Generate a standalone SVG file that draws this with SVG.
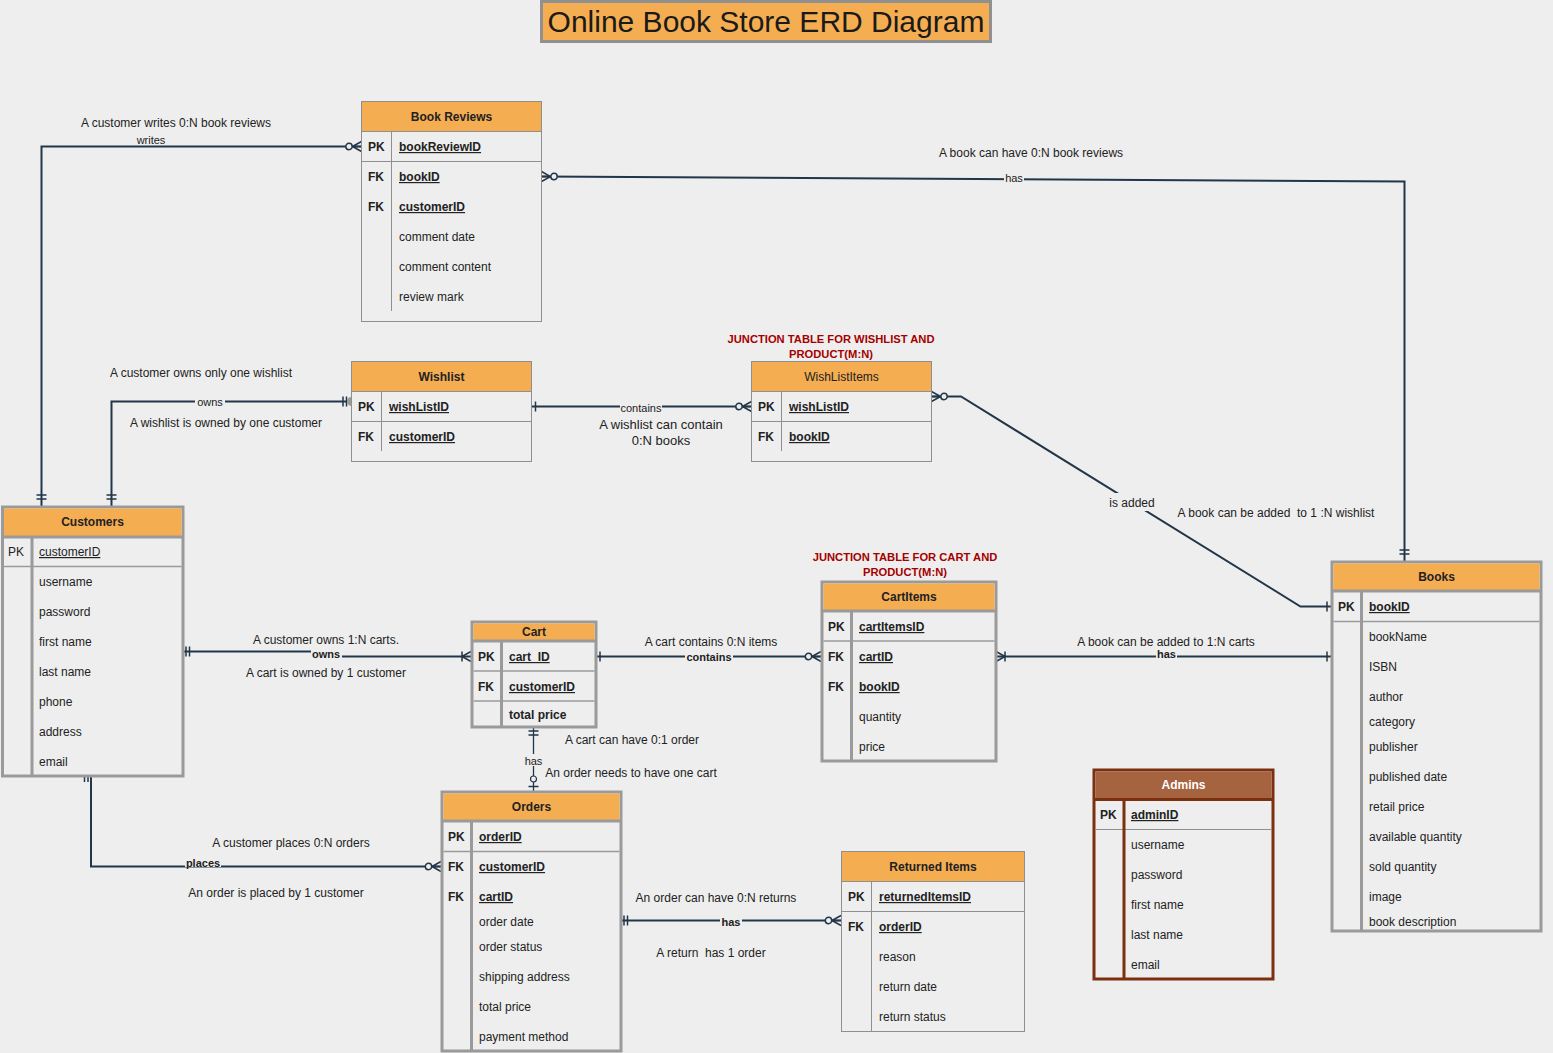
<svg xmlns="http://www.w3.org/2000/svg" width="1553" height="1053" viewBox="0 0 1553 1053">
<style>
text{font-family:"Liberation Sans",Arial,sans-serif;font-size:12px;fill:#222;}
.hd{font-weight:bold;text-anchor:middle;}
.hdn{text-anchor:middle;}
.k{font-weight:bold;}
.u{font-weight:bold;text-decoration:underline;}
.thin{fill:#eeeeee;stroke:#8f8f8f;stroke-width:1;}
.thick{fill:#eeeeee;stroke:#9a9a9a;stroke-width:3;}
.hfill{fill:#f5ad52;}
.sep{stroke:#9a9a9a;stroke-width:1.5;}
.sep1{stroke:#8f8f8f;stroke-width:1;}
.div3{stroke:#9a9a9a;stroke-width:3;}
.conn{fill:none;stroke:#22364a;stroke-width:2;}
.mk{fill:none;stroke:#22364a;stroke-width:1.5;}
.ann{text-anchor:middle;}
.lbl{text-anchor:middle;font-size:11px;}
.lblb{text-anchor:middle;font-size:11px;font-weight:bold;}
.bg{fill:#eeeeee;}
.red{fill:#a50000;font-weight:bold;text-anchor:middle;font-size:11.2px;}
</style>
<defs>
<marker id="zm" markerUnits="userSpaceOnUse" orient="auto-start-reverse" overflow="visible" markerWidth="1" markerHeight="1">
<path class="mk" d="M-9,0 L0,-5 M-9,0 L0,5 M-9,0 L0,0"/>
<circle cx="-12.5" cy="0" r="3.2" fill="#eeeeee" stroke="#22364a" stroke-width="1.5"/>
</marker>
<marker id="one" markerUnits="userSpaceOnUse" orient="auto-start-reverse" overflow="visible" markerWidth="1" markerHeight="1">
<path class="mk" d="M-4,-5 V5"/>
</marker>
<marker id="oo1" markerUnits="userSpaceOnUse" orient="auto-start-reverse" overflow="visible" markerWidth="1" markerHeight="1">
<path class="mk" d="M-3,-5 V5 M-6.5,-5 V5"/>
</marker>
<marker id="oo2" markerUnits="userSpaceOnUse" orient="auto-start-reverse" overflow="visible" markerWidth="1" markerHeight="1">
<path class="mk" d="M-4,-5 V5 M-8,-5 V5"/>
</marker>
<marker id="oo3" markerUnits="userSpaceOnUse" orient="auto-start-reverse" overflow="visible" markerWidth="1" markerHeight="1">
<path class="mk" d="M-7,-5 V5 M-11,-5 V5"/>
</marker>
<marker id="om" markerUnits="userSpaceOnUse" orient="auto-start-reverse" overflow="visible" markerWidth="1" markerHeight="1">
<path class="mk" d="M-9,0 L0,-5 M-9,0 L0,5 M-9,-5 V5"/>
</marker>
<marker id="zo" markerUnits="userSpaceOnUse" orient="auto-start-reverse" overflow="visible" markerWidth="1" markerHeight="1">
<path class="mk" d="M-4.5,-5 V5"/>
<circle cx="-12" cy="0" r="3" fill="#eeeeee" stroke="#22364a" stroke-width="1.2"/>
</marker>
<marker id="ood" markerUnits="userSpaceOnUse" orient="auto-start-reverse" overflow="visible" markerWidth="1" markerHeight="1">
<path class="mk" d="M-5,-5 V5 M-8.5,-5 V5"/>
<circle cx="0" cy="0" r="4.5" fill="#9a9a9a"/>
</marker>
</defs>
<rect width="1553" height="1053" fill="#eeeeee"/>

<g id="title">
<rect x="541.5" y="1.5" width="449" height="40" fill="#f5ad52" stroke="#909090" stroke-width="3"/>
<text x="766" y="32" text-anchor="middle" style="font-size:30px;fill:#1a1a1a">Online Book Store ERD Diagram</text>
</g>

<g id="connectors">
<path class="conn" d="M41.5,506 V146.5 H361.5" marker-start="url(#oo3)" marker-end="url(#zm)"/>
<path class="conn" d="M111.5,506 V401.5 H351.5" marker-start="url(#oo3)" marker-end="url(#ood)"/>
<path class="conn" d="M531.5,406.5 H751.5" marker-start="url(#one)" marker-end="url(#zm)"/>
<path class="conn" d="M931.5,396.5 H961 L1300.5,606.5 H1331" marker-start="url(#zm)" marker-end="url(#one)"/>
<path class="conn" d="M541.5,176.5 L1404.5,181.5 V561" marker-start="url(#zm)" marker-end="url(#oo3)"/>
<path class="conn" d="M183,651.5 H318 V656.5 H471" marker-start="url(#oo1)" marker-end="url(#om)"/>
<path class="conn" d="M596,656.5 H821" marker-start="url(#one)" marker-end="url(#zm)"/>
<path class="conn" d="M996,656.5 H1331" marker-start="url(#om)" marker-end="url(#one)"/>
<path class="conn" d="M533.5,727 V791" style="stroke-width:1.3" marker-start="url(#oo2)" marker-end="url(#zo)"/>
<path class="conn" d="M91,776 V866.5 H441" marker-end="url(#zm)"/>
<path class="mk" d="M84.5,772 V782 M88,772 V782"/>
<path class="conn" d="M621,920.5 H841" marker-start="url(#oo1)" marker-end="url(#zm)"/>

<text class="lbl" x="151" y="144">writes</text>
<rect class="bg" x="195" y="396" width="30" height="11"/>
<text class="lbl" x="210" y="406">owns</text>
<rect class="bg" x="620" y="401" width="42" height="12"/>
<text class="lbl" x="641" y="411.5">contains</text>
<rect class="bg" x="1004" y="172" width="20" height="11"/>
<text class="lbl" x="1014" y="181.5">has</text>
<rect class="bg" x="1105" y="493" width="54" height="18"/>
<text class="ann" x="1132" y="507">is added</text>
<rect class="bg" x="311" y="648" width="31" height="11"/>
<text class="lblb" x="326" y="658">owns</text>
<rect class="bg" x="685" y="651" width="48" height="11"/>
<text class="lblb" x="709" y="661">contains</text>
<rect class="bg" x="1156" y="649" width="21" height="9"/>
<text class="lblb" x="1166.5" y="657.5">has</text>
<rect class="bg" x="524" y="754" width="20" height="12"/>
<text class="lbl" x="533.5" y="764.5">has</text>
<rect class="bg" x="185" y="857" width="36" height="10"/>
<text class="lblb" x="203" y="866.5">places</text>
<rect class="bg" x="720" y="915" width="22" height="11"/>
<text class="lblb" x="731" y="925.5">has</text>

<text class="ann" x="176" y="127">A customer writes 0:N book reviews</text>
<text class="ann" x="201" y="377">A customer owns only one wishlist</text>
<text class="ann" x="226" y="427">A wishlist is owned by one customer</text>
<text class="ann" x="661" y="428.5" style="font-size:13px">A wishlist can contain</text>
<text class="ann" x="661" y="444.5" style="font-size:13px">0:N books</text>
<text class="ann" x="1031" y="157">A book can have 0:N book reviews</text>
<text class="ann" x="1276" y="517" xml:space="preserve">A book can be added  to 1 :N wishlist</text>
<text class="ann" x="326" y="644">A customer owns 1:N carts.</text>
<text class="ann" x="326" y="677">A cart is owned by 1 customer</text>
<text class="ann" x="711" y="646">A cart contains 0:N items</text>
<text class="ann" x="1166" y="645.5">A book can be added to 1:N carts</text>
<text class="ann" x="632" y="744">A cart can have 0:1 order</text>
<text class="ann" x="631" y="777">An order needs to have one cart</text>
<text class="ann" x="291" y="847">A customer places 0:N orders</text>
<text class="ann" x="276" y="897">An order is placed by 1 customer</text>
<text class="ann" x="716" y="902">An order can have 0:N returns</text>
<text class="ann" x="711" y="957" xml:space="preserve">A return  has 1 order</text>
</g>

<g id="junction-labels">
<text class="red" x="831" y="343">JUNCTION TABLE FOR WISHLIST AND</text>
<text class="red" x="831" y="358">PRODUCT(M:N)</text>
<text class="red" x="905" y="561">JUNCTION TABLE FOR CART AND</text>
<text class="red" x="905" y="576">PRODUCT(M:N)</text>
</g>

<g id="book-reviews">
<rect class="thin" x="361.5" y="101.5" width="180" height="220"/>
<rect class="hfill" x="362" y="102" width="179" height="29"/>
<line class="sep1" x1="361.5" y1="131.5" x2="541.5" y2="131.5"/>
<line class="sep1" x1="361.5" y1="161.5" x2="541.5" y2="161.5"/>
<line class="sep1" x1="391.5" y1="131.5" x2="391.5" y2="311"/>
<text class="hd" x="451.5" y="121">Book Reviews</text>
<text class="k" x="368" y="151">PK</text><text class="u" x="399" y="151">bookReviewID</text>
<text class="k" x="368" y="181">FK</text><text class="u" x="399" y="181">bookID</text>
<text class="k" x="368" y="211">FK</text><text class="u" x="399" y="211">customerID</text>
<text x="399" y="241">comment date</text>
<text x="399" y="271">comment content</text>
<text x="399" y="301">review mark</text>
</g>

<g id="wishlist">
<rect class="thin" x="351.5" y="361.5" width="180" height="100"/>
<rect class="hfill" x="352" y="362" width="179" height="29"/>
<line class="sep1" x1="351.5" y1="391.5" x2="531.5" y2="391.5"/>
<line class="sep1" x1="351.5" y1="421.5" x2="531.5" y2="421.5"/>
<line class="sep1" x1="381.5" y1="391.5" x2="381.5" y2="451"/>
<text class="hd" x="441.5" y="381">Wishlist</text>
<text class="k" x="358" y="411">PK</text><text class="u" x="389" y="411">wishListID</text>
<text class="k" x="358" y="441">FK</text><text class="u" x="389" y="441">customerID</text>
</g>

<g id="wishlist-items">
<rect class="thin" x="751.5" y="361.5" width="180" height="100"/>
<rect class="hfill" x="752" y="362" width="179" height="29"/>
<line class="sep1" x1="751.5" y1="391.5" x2="931.5" y2="391.5"/>
<line class="sep1" x1="751.5" y1="421.5" x2="931.5" y2="421.5"/>
<line class="sep1" x1="781.5" y1="391.5" x2="781.5" y2="451"/>
<text class="hdn" x="841.5" y="381">WishListItems</text>
<text class="k" x="758" y="411">PK</text><text class="u" x="789" y="411">wishListID</text>
<text class="k" x="758" y="441">FK</text><text class="u" x="789" y="441">bookID</text>
</g>

<g id="customers">
<rect class="thick" x="2.5" y="507" width="180.5" height="269"/>
<rect class="hfill" x="4" y="508.5" width="177.5" height="27.5"/>
<line class="div3" x1="2.5" y1="537" x2="183" y2="537"/>
<line class="sep" x1="4" y1="566.5" x2="181.5" y2="566.5"/>
<line class="div3" x1="32" y1="537" x2="32" y2="776"/>
<text class="hd" x="92.5" y="526">Customers</text>
<text x="8" y="556">PK</text><text x="39" y="556" style="text-decoration:underline">customerID</text>
<text x="39" y="586">username</text>
<text x="39" y="616">password</text>
<text x="39" y="646">first name</text>
<text x="39" y="676">last name</text>
<text x="39" y="706">phone</text>
<text x="39" y="736">address</text>
<text x="39" y="766">email</text>
</g>

<g id="cart">
<rect class="thick" x="472" y="622" width="124" height="105"/>
<rect class="hfill" x="473.5" y="623.5" width="121" height="16.5"/>
<line class="div3" x1="472" y1="641" x2="596" y2="641"/>
<line class="sep" x1="473.5" y1="671" x2="594.5" y2="671"/>
<line class="sep" x1="473.5" y1="701" x2="594.5" y2="701"/>
<line class="div3" x1="501.5" y1="641" x2="501.5" y2="727"/>
<text class="hd" x="534" y="636">Cart</text>
<text class="k" x="478" y="661">PK</text><text class="u" x="509" y="661">cart_ID</text>
<text class="k" x="478" y="691">FK</text><text class="u" x="509" y="691">customerID</text>
<text class="k" x="509" y="719">total price</text>
</g>

<g id="cart-items">
<rect class="thick" x="822" y="582" width="174" height="179"/>
<rect class="hfill" x="823.5" y="583.5" width="171" height="26.5"/>
<line class="div3" x1="822" y1="611" x2="996" y2="611"/>
<line class="sep" x1="823.5" y1="641" x2="994.5" y2="641"/>
<line class="div3" x1="851.5" y1="611" x2="851.5" y2="761"/>
<text class="hd" x="909" y="601">CartItems</text>
<text class="k" x="828" y="631">PK</text><text class="u" x="859" y="631">cartItemsID</text>
<text class="k" x="828" y="661">FK</text><text class="u" x="859" y="661">cartID</text>
<text class="k" x="828" y="691">FK</text><text class="u" x="859" y="691">bookID</text>
<text x="859" y="721">quantity</text>
<text x="859" y="751">price</text>
</g>

<g id="books">
<rect class="thick" x="1332" y="562" width="209" height="369"/>
<rect class="hfill" x="1333.5" y="563.5" width="206" height="26.5"/>
<line class="div3" x1="1332" y1="591" x2="1541" y2="591"/>
<line class="sep" x1="1333.5" y1="621.5" x2="1539.5" y2="621.5"/>
<line class="div3" x1="1361.5" y1="591" x2="1361.5" y2="931"/>
<text class="hd" x="1436.5" y="581">Books</text>
<text class="k" x="1338" y="611">PK</text><text class="u" x="1369" y="611">bookID</text>
<text x="1369" y="641">bookName</text>
<text x="1369" y="671">ISBN</text>
<text x="1369" y="701">author</text>
<text x="1369" y="726">category</text>
<text x="1369" y="751">publisher</text>
<text x="1369" y="781">published date</text>
<text x="1369" y="811">retail price</text>
<text x="1369" y="841">available quantity</text>
<text x="1369" y="871">sold quantity</text>
<text x="1369" y="901">image</text>
<text x="1369" y="926">book description</text>
</g>

<g id="admins">
<rect x="1094" y="770" width="179" height="209" fill="#eeeeee" stroke="#7b3010" stroke-width="3"/>
<rect x="1095.5" y="771.5" width="176" height="27" fill="#a6633f"/>
<line x1="1094" y1="799.5" x2="1273" y2="799.5" stroke="#7b3010" stroke-width="3"/>
<line class="sep1" x1="1095.5" y1="829.5" x2="1271.5" y2="829.5"/>
<line x1="1124" y1="799.5" x2="1124" y2="979" stroke="#7b3010" stroke-width="3"/>
<text class="hd" x="1183.5" y="789" style="fill:#ffffff">Admins</text>
<text class="k" x="1100" y="819">PK</text><text class="u" x="1131" y="819">adminID</text>
<text x="1131" y="849">username</text>
<text x="1131" y="879">password</text>
<text x="1131" y="909">first name</text>
<text x="1131" y="939">last name</text>
<text x="1131" y="969">email</text>
</g>

<g id="orders">
<rect class="thick" x="442" y="792" width="179" height="259"/>
<rect class="hfill" x="443.5" y="793.5" width="176" height="26.5"/>
<line class="div3" x1="442" y1="821" x2="621" y2="821"/>
<line class="sep" x1="443.5" y1="851.5" x2="619.5" y2="851.5"/>
<line class="div3" x1="471.5" y1="821" x2="471.5" y2="1051"/>
<text class="hd" x="531.5" y="811">Orders</text>
<text class="k" x="448" y="841">PK</text><text class="u" x="479" y="841">orderID</text>
<text class="k" x="448" y="871">FK</text><text class="u" x="479" y="871">customerID</text>
<text class="k" x="448" y="901">FK</text><text class="u" x="479" y="901">cartID</text>
<text x="479" y="926">order date</text>
<text x="479" y="951">order status</text>
<text x="479" y="981">shipping address</text>
<text x="479" y="1011">total price</text>
<text x="479" y="1041">payment method</text>
</g>

<g id="returned-items">
<rect class="thin" x="841.5" y="851.5" width="183" height="180"/>
<rect class="hfill" x="842" y="852" width="182" height="29"/>
<line class="sep1" x1="841.5" y1="881.5" x2="1024.5" y2="881.5"/>
<line class="sep1" x1="841.5" y1="911.5" x2="1024.5" y2="911.5"/>
<line class="sep1" x1="871.5" y1="881.5" x2="871.5" y2="1031.5"/>
<text class="hd" x="933" y="871">Returned Items</text>
<text class="k" x="848" y="901">PK</text><text class="u" x="879" y="901">returnedItemsID</text>
<text class="k" x="848" y="931">FK</text><text class="u" x="879" y="931">orderID</text>
<text x="879" y="961">reason</text>
<text x="879" y="991">return date</text>
<text x="879" y="1021">return status</text>
</g>
</svg>
